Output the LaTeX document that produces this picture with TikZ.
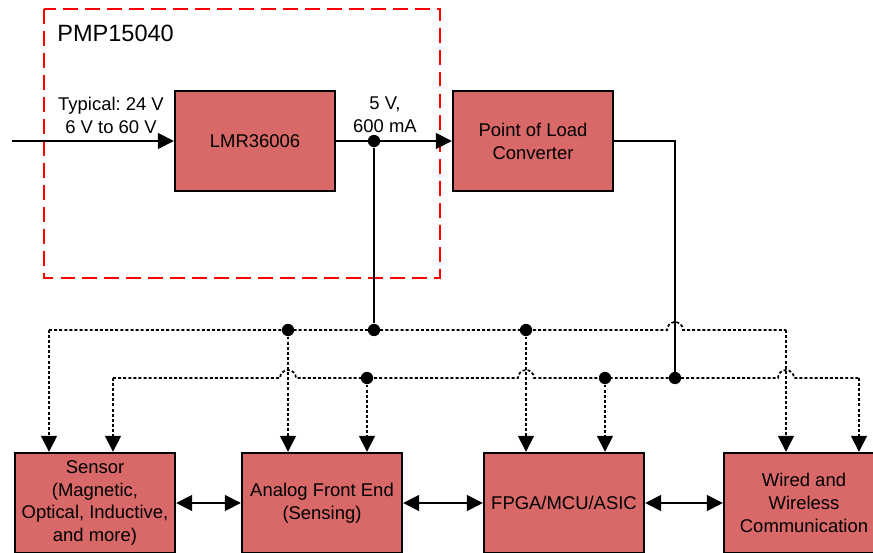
\documentclass[tikz,border=0pt]{standalone}
\usepackage{fontspec}
\setmainfont{Liberation Sans}
\usetikzlibrary{arrows.meta}
\definecolor{blockred}{RGB}{217,104,104}
\tikzset{
  block/.style={draw, line width=1.4pt, fill=blockred, minimum width=3.2cm, minimum height=2cm, align=center, inner sep=2pt},
  wire/.style={line width=1pt},
  bus/.style={line width=1pt, dash pattern=on 1.7pt off 1.2pt},
  tip/.style={-{Triangle[length=9pt,width=9pt]}},
  both/.style={{Triangle[length=9pt,width=9pt]}-{Triangle[length=9pt,width=9pt]}},
  dot/.style={circle, fill, inner sep=0pt, minimum size=7pt},
  lbl/.style={align=center, inner sep=0pt}
}
\frenchspacing
\begin{document}
\begin{tikzpicture}[x=0.02cm, y=0.02cm, font=\fontsize{10.5}{13}\selectfont]
        \useasboundingbox (0,0) rectangle (873,552);
        \clip (0,0) rectangle (873,552);

        % The reference design frame
        \draw[red, line width=1.1pt, dash pattern=on 8.5pt off 4pt] (44,543) rectangle (440,274);
        \node[anchor=west, inner sep=0pt, font=\fontsize{13.4}{16}\selectfont] (pmp) at (57,519) {PMP15040};

        % Power path
        \node[block] (lmr) at (255,411) {LMR36006};
        \node[block] (pol) at (533,411) {Point of Load\\Converter};
        \coordinate (vin) at (12,411);
        \node[lbl] (vinlbl) at (111,437) {Typical: 24 V\\6 V to 60 V};
        \node[lbl] (voutlbl) at (385,437) {5 V,\\600 mA};
        \draw[wire, tip] (vin) -- (lmr.west);
        \draw[wire, tip] (lmr.east) -- (pol.west);

        % The signal chain blocks
        \node[block] (sen) at (95,49) {Sensor\\(Magnetic,\\Optical, Inductive,\\and more)};
        \node[block] (afe) at (322,49) {Analog Front End\\(Sensing)};
        \node[block] (fpga) at (564,49) {FPGA/MCU/ASIC};
        \node[block] (com) at (804,49) {Wired and\\Wireless\\Communication};
        \draw[wire, both] (sen.east) -- (afe.west);
        \draw[wire, both] (afe.east) -- (fpga.west);
        \draw[wire, both] (fpga.east) -- (com.west);

        % Junctions
        \node[dot] (j5v) at (374,411) {};
        \node[dot] (ja) at (288,222) {};
        \node[dot] (jb) at (374,222) {};
        \node[dot] (jc) at (526,222) {};
        \node[dot] (jd) at (367,174) {};
        \node[dot] (je) at (605,174) {};
        \node[dot] (jf) at (675,174) {};
        \coordinate (ta) at (49,222);
        \coordinate (tb) at (786,222);
        \coordinate (ba) at (113,174);
        \coordinate (bb) at (859,174);

        % Rails (5 V and point of load)
        \draw[wire] (j5v) -- (jb);
        \draw[wire] (pol.east) -| (jf);
        \draw[bus] (ta) -- (667,222) arc[start angle=180, end angle=0, radius=8] -- (tb);
        \draw[bus] (ba) -- (280,174) arc[start angle=180, end angle=0, radius=8]
                   -- (518,174) arc[start angle=180, end angle=0, radius=8]
                   -- (778,174) arc[start angle=180, end angle=0, radius=8] -- (bb);

        % Drops to the blocks
        \draw[bus, tip] (ta) -- (ta |- sen.north);
        \draw[bus, tip] (ba) -- (ba |- sen.north);
        \draw[bus, tip] (ja) -- (ja |- afe.north);
        \draw[bus, tip] (jd) -- (jd |- afe.north);
        \draw[bus, tip] (jc) -- (jc |- fpga.north);
        \draw[bus, tip] (je) -- (je |- fpga.north);
        \draw[bus, tip] (tb) -- (tb |- com.north);
        \draw[bus, tip] (bb) -- (bb |- com.north);
    \end{tikzpicture}
\end{document}
